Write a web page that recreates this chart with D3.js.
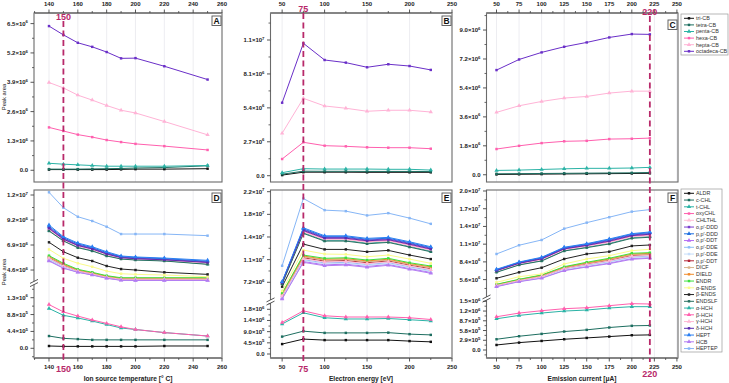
<!DOCTYPE html>
<html><head><meta charset="utf-8">
<script src="https://cdn.jsdelivr.net/npm/d3@7"></script>
<style>
body{margin:0;background:#fff}
svg{display:block}
text{font-family:Arial,"Liberation Sans",Helvetica,sans-serif}
</style>
</head><body>
<svg id="c" width="729" height="383"></svg>
<script>
// ---------------- DATA (peak areas in units of 10^6) ----------------
const tempX    = [140,150,160,170,180,190,200,220,250];
const energyX  = [50,75,100,125,150,175,200,225];
const currentX = [50,75,100,125,150,175,200,220];

const cbNames = ["tri-CB","tetra-CB","penta-CB","hexa-CB","hepta-CB","octadeca-CB"];
const cbA = [
  [0.03,0.03,0.03,0.03,0.03,0.04,0.05,0.05,0.07],
  [0.05,0.05,0.05,0.06,0.07,0.08,0.10,0.12,0.20],
  [0.31,0.27,0.24,0.21,0.18,0.18,0.18,0.18,0.21],
  [1.90,1.74,1.58,1.47,1.34,1.25,1.17,1.07,0.90],
  [3.89,3.65,3.33,3.11,2.87,2.66,2.54,2.16,1.57],
  [6.39,6.00,5.65,5.47,5.24,4.96,4.97,4.61,4.02]
];
const cbB = [
  [0.05,0.28,0.28,0.28,0.27,0.27,0.27,0.27],
  [0.12,0.36,0.35,0.35,0.34,0.34,0.34,0.33],
  [0.24,0.56,0.53,0.53,0.53,0.51,0.51,0.45],
  [1.33,2.66,2.39,2.34,2.26,2.23,2.23,2.15],
  [3.38,6.16,5.55,5.37,5.13,5.21,5.21,5.07],
  [5.81,10.54,9.21,9.00,8.63,8.87,8.73,8.42]
];
const cbC = [
  [0.02,0.03,0.04,0.05,0.06,0.07,0.08,0.09],
  [0.06,0.07,0.08,0.09,0.10,0.11,0.12,0.14],
  [0.27,0.29,0.33,0.37,0.40,0.40,0.42,0.46],
  [1.60,1.80,1.97,2.08,2.11,2.22,2.24,2.28],
  [3.88,4.29,4.56,4.77,4.87,5.08,5.20,5.20],
  [6.51,7.17,7.61,7.96,8.23,8.54,8.75,8.73]
];

const pestNames = ["ALDR","c-CHL","t-CHL","oxyCHL","CHLTHL","o,p\u2032-DDD","p,p\u2032-DDD","o,p\u2032-DDT",
  "o,p\u2032-DDE","p,p\u2032-DDE","p,p\u2032-DDT","DICF","DIELD","ENDR","\u03b1-ENDS","\u03b2-ENDS","ENDSLF",
  "\u03b1-HCH","\u03b2-HCH","\u03b3-HCH","\u03b4-HCH","HEPT","HCB","HEPTEP"];
// which side of the broken y axis each compound sits on
const pestSegment = ["low","low","up","up","up","up","up","up","up","up","up","up","up","up","up","up","up",
  "low","low","up","up","up","up","up"];

const pestD = [
  [0.06,0.05,0.05,0.05,0.05,0.05,0.05,0.06,0.06],
  [0.32,0.26,0.24,0.22,0.22,0.22,0.22,0.22,0.22],
  [8.26,7.31,6.72,6.40,5.95,5.65,5.55,5.45,5.16],
  [8.38,7.40,6.82,6.50,6.04,5.71,5.61,5.51,5.26],
  [8.30,7.34,6.76,6.44,5.98,5.67,5.57,5.47,5.20],
  [8.52,7.50,6.92,6.60,6.14,5.78,5.69,5.58,5.35],
  [8.62,7.57,7.00,6.66,6.20,5.83,5.75,5.64,5.41],
  [5.49,4.81,4.41,4.16,3.86,3.67,3.66,3.66,3.66],
  [5.62,4.92,4.47,4.21,3.90,3.72,3.72,3.72,3.72],
  [5.56,4.87,4.44,4.18,3.88,3.70,3.69,3.69,3.69],
  [5.74,5.02,4.53,4.27,3.96,3.78,3.78,3.78,3.78],
  [5.80,5.08,4.57,4.30,4.00,3.82,3.82,3.82,3.82],
  [5.85,5.14,4.61,4.34,4.03,3.85,3.85,3.85,3.85],
  [5.92,5.22,4.66,4.39,4.08,3.89,3.89,3.89,3.89],
  [6.50,5.68,5.22,4.90,4.50,4.26,4.20,4.14,3.98],
  [7.15,6.28,5.73,5.43,4.97,4.69,4.60,4.39,4.20],
  [8.19,7.27,6.65,6.35,5.89,5.61,5.52,5.43,5.12],
  [1.04,0.86,0.79,0.71,0.62,0.53,0.49,0.41,0.32],
  [1.14,0.95,0.84,0.74,0.65,0.56,0.49,0.41,0.32],
  [5.68,4.97,4.50,4.24,3.93,3.75,3.75,3.75,3.75],
  [8.44,7.44,6.86,6.54,6.08,5.74,5.64,5.54,5.30],
  [8.74,7.66,7.08,6.74,6.28,5.89,5.80,5.70,5.49],
  [5.43,4.76,4.39,4.14,3.84,3.65,3.64,3.64,3.64],
  [11.75,10.33,9.50,9.11,8.58,7.91,7.91,7.91,7.76]
];
const pestE = [
  [0.40,0.60,0.56,0.56,0.56,0.56,0.52,0.49],
  [0.70,0.92,0.85,0.85,0.85,0.86,0.80,0.77],
  [6.98,15.08,13.86,13.86,13.44,13.64,12.91,12.15],
  [7.09,15.32,14.09,14.09,13.68,13.86,13.14,12.37],
  [7.04,15.20,13.97,13.97,13.56,13.75,13.02,12.26],
  [7.19,15.57,14.33,14.33,13.92,14.09,13.38,12.60],
  [7.25,15.70,14.45,14.45,14.04,14.21,13.50,12.72],
  [4.67,10.51,9.98,10.08,9.73,10.04,9.39,8.78],
  [4.89,10.80,10.28,10.37,10.02,10.32,9.65,9.07],
  [4.78,10.66,10.13,10.23,9.87,10.18,9.52,8.92],
  [5.12,11.09,10.57,10.66,10.31,10.59,9.92,9.36],
  [5.23,11.24,10.72,10.81,10.45,10.73,10.05,9.50],
  [5.35,11.38,10.86,10.95,10.60,10.87,10.18,9.65],
  [5.46,11.53,11.01,11.10,10.74,11.01,10.31,9.79],
  [5.82,12.32,11.69,11.64,11.26,11.53,10.89,10.21],
  [6.50,13.27,12.43,12.43,12.05,12.27,11.53,10.89],
  [6.93,14.97,13.75,13.75,13.32,13.54,12.80,12.05],
  [1.21,1.66,1.46,1.41,1.41,1.43,1.38,1.33],
  [1.27,1.74,1.54,1.49,1.49,1.49,1.46,1.39],
  [5.01,10.95,10.42,10.52,10.16,10.45,9.79,9.21],
  [7.14,15.44,14.21,14.21,13.80,13.97,13.26,12.48],
  [7.30,15.86,14.59,14.59,14.18,14.34,13.64,12.85],
  [4.55,10.37,9.83,9.94,9.58,9.90,9.26,8.63],
  [9.83,20.52,18.67,18.51,17.83,18.19,17.40,16.49]
];
const pestF = [
  [0.15,0.22,0.27,0.32,0.36,0.40,0.44,0.45],
  [0.32,0.41,0.48,0.55,0.60,0.67,0.72,0.73],
  [6.82,7.98,8.62,10.20,10.74,11.34,12.23,12.41],
  [6.96,8.11,8.79,10.37,10.92,11.57,12.44,12.65],
  [6.89,8.04,8.71,10.29,10.83,11.46,12.34,12.53],
  [7.09,8.25,8.96,10.54,11.10,11.80,12.65,12.89],
  [7.16,8.31,9.05,10.63,11.19,11.91,12.76,13.01],
  [4.53,5.32,5.88,7.09,7.68,8.23,8.93,9.08],
  [4.62,5.41,6.01,7.25,7.87,8.44,9.17,9.30],
  [4.57,5.36,5.94,7.17,7.78,8.33,9.05,9.19],
  [4.72,5.51,6.14,7.40,8.06,8.65,9.40,9.53],
  [4.76,5.56,6.20,7.48,8.15,8.76,9.52,9.64],
  [4.81,5.60,6.27,7.56,8.25,8.86,9.64,9.75],
  [4.86,5.65,6.33,7.64,8.34,8.97,9.76,9.86],
  [5.17,6.06,6.49,8.07,8.86,9.38,10.17,10.39],
  [5.81,6.75,7.48,8.86,9.65,10.01,10.92,11.07],
  [6.75,7.91,8.54,10.12,10.65,11.23,12.13,12.29],
  [0.93,1.03,1.10,1.16,1.19,1.25,1.29,1.29],
  [0.99,1.10,1.17,1.23,1.26,1.32,1.38,1.37],
  [4.67,5.46,6.07,7.33,7.97,8.55,9.29,9.42],
  [7.02,8.18,8.88,10.46,11.01,11.68,12.55,12.77],
  [7.23,8.38,9.13,10.71,11.28,12.02,12.86,13.13],
  [4.48,5.27,5.81,7.01,7.59,8.12,8.81,8.97],
  [9.65,11.03,11.86,13.65,14.60,15.46,16.34,16.66]
];

// tick values / labels
const xTicksTemp = [140,160,180,200,220,240,260];
const xTicksEnergy = [50,100,150,200,250];
const xTicksCurrent = [50,75,100,125,150,175,200,225,250];
const optimum = {A:150,B:75,C:220};

const yTicksA = [0,1.3,2.6,3.9,5.2,6.5];
const yLabA = ["0.0","1.3×10^6","2.6×10^6","3.9×10^6","5.2×10^6","6.5×10^6"];
const yTicksB = [0,2.7,5.4,8.1,10.8];
const yLabB = ["0.0","2.7×10^6","5.4×10^6","8.1×10^6","1.1×10^7"];
const yTicksC = [0,1.8,3.6,5.4,7.2,9.0];
const yLabC = ["0.0","1.8×10^6","3.6×10^6","5.4×10^6","7.2×10^6","9.0×10^6"];
const yTicksDup = [4.6,6.9,9.2,11.5];
const yLabDup = ["4.6×10^6","6.9×10^6","9.2×10^6","1.2×10^7"];
const yTicksDlow = [0,0.44,0.88,1.32];
const yLabDlow = ["0.0","4.4×10^5","8.8×10^5","1.3×10^6"];
const yTicksEup = [7.2,10.8,14.4,18.0,21.6];
const yLabEup = ["7.2×10^6","1.1×10^7","1.4×10^7","1.8×10^7","2.2×10^7"];
const yTicksElow = [0,0.45,0.9,1.35,1.8];
const yLabElow = ["0.0","4.5×10^5","9.0×10^5","1.4×10^6","1.8×10^6"];
const yTicksFup = [5.6,8.4,11.2,14.0,16.8,19.6];
const yLabFup = ["5.6×10^6","8.4×10^6","1.1×10^7","1.4×10^7","1.7×10^7","2.0×10^7"];
const yTicksFlow = [0,0.29,0.58,0.87,1.16,1.45];
const yLabFlow = ["0.0","2.9×10^5","5.8×10^5","8.7×10^5","1.2×10^6","1.5×10^6"];

// ---------------- STYLE ----------------
const cbColors = ["#111111","#1d6e60","#2bb3a6","#ff5fae","#ffb3d6","#6a2fc8"];
const pestColors = ["#111111","#1d6e60","#2bb3a6","#ff5fae","#ffc0d8","#7b3fcf","#1f6fe0","#b46cf4",
  "#8dbdf7","#c6ddfa","#b32436","#d9b48a","#f08c2c","#3ee03e","#fbfb8a","#222222","#27705f",
  "#2bb3a6","#ff5fae","#ffb8d4","#5a2eb0","#2a7ef2","#b27cf2","#86b6f6"];
const pestShape = ["sq","sq","tri","sq","tri","sq","tri","tri","sq","sq","sq","sq","sq","sq","sq","sq","sq",
  "tri","tri","tri","sq","tri","tri","sq"];
const cbShape = ["sq","sq","tri","sq","tri","sq"];
const RED = "#b8296a";

const svg = d3.select("#c");

function sciText(sel, str, supSize){
  const parts = str.split("^");
  sel.append("tspan").text(parts[0]);
  if(parts[1]) sel.append("tspan").attr("dy",-2.4).attr("font-size",supSize||4.3).text(parts[1]);
}
function marker(g, shape, x, y, color){
  const sym = d3.symbol().type(shape==="tri"?d3.symbolTriangle:d3.symbolSquare).size(shape==="tri"?8:6);
  g.append("path").attr("d",sym()).attr("transform",`translate(${x},${y})`).attr("fill",color).attr("stroke","none");
}

const panels = [
  {id:"A", l:34, r:222, t:13, b:182, xd:[129.6,260], xs:tempX, xt:xTicksTemp, top:true,
   segs:[{r:[182,13], d:[-0.52,6.97], ticks:yTicksA, labs:yLabA}], data:cbA, kind:"cb"},
  {id:"B", l:270.5, r:452, t:13, b:182, xd:[36.3,250], xs:energyX, xt:xTicksEnergy, top:true,
   segs:[{r:[182,13], d:[-0.50,12.95], ticks:yTicksB, labs:yLabB}], data:cbB, kind:"cb"},
  {id:"C", l:486.5, r:678, t:13, b:182, xd:[38.9,251.2], xs:currentX, xt:xTicksCurrent, top:true,
   segs:[{r:[182,13], d:[-0.45,10.06], ticks:yTicksC, labs:yLabC}], data:cbC, kind:"cb"},
  {id:"D", l:34, r:222, t:190, b:358, xd:[129.6,260], xs:tempX, xt:xTicksTemp, top:false, brk:283,
   segs:[{key:"up", r:[281,190], d:[3.59,11.96], ticks:yTicksDup, labs:yLabDup},
         {key:"low", r:[358,285], d:[-0.253,1.651], ticks:yTicksDlow, labs:yLabDlow}], data:pestD, kind:"pest"},
  {id:"E", l:270.5, r:452, t:190, b:358, xd:[36.3,250], xs:energyX, xt:xTicksEnergy, top:false, brk:301.5,
   segs:[{key:"up", r:[300,190], d:[4.386,21.87], ticks:yTicksEup, labs:yLabEup},
         {key:"low", r:[358,303], d:[-0.161,2.054], ticks:yTicksElow, labs:yLabElow}], data:pestE, kind:"pest"},
  {id:"F", l:486.5, r:678, t:190, b:358, xd:[38.9,251.2], xs:currentX, xt:xTicksCurrent, top:false, brk:298.5,
   segs:[{key:"up", r:[297,190], d:[2.851,19.758], ticks:yTicksFup, labs:yLabFup},
         {key:"low", r:[358,300], d:[-0.238,1.489], ticks:yTicksFlow, labs:yLabFlow}], data:pestF, kind:"pest"}
];

panels.forEach(p=>{
  const g = svg.append("g");
  const x = d3.scaleLinear().domain(p.xd).range([p.l,p.r]);
  g.selectAll(".grid").data(p.xt.filter(v=>x(v)>p.l+1 && x(v)<p.r-1)).enter().append("line")
    .attr("x1",d=>x(d)).attr("x2",d=>x(d)).attr("y1",p.t).attr("y2",p.b)
    .attr("stroke","#e9e9ee").attr("stroke-width",0.8);
  g.append("rect").attr("x",p.l).attr("y",p.t).attr("width",p.r-p.l).attr("height",p.b-p.t)
    .attr("fill","none").attr("stroke","#6b6b6b").attr("stroke-width",1.1);
  const ax = p.top ? p.t : p.b, dir = p.top ? -1 : 1;
  // heavier axis line on the tick side
  g.append("line").attr("x1",p.l).attr("x2",p.r).attr("y1",ax).attr("y2",ax)
    .attr("stroke","#858585").attr("stroke-width",1.8);
  const minors = [];
  for(let i=0;i<p.xt.length-1;i++) minors.push((p.xt[i]+p.xt[i+1])/2);
  if(x(p.xt[0]-(p.xt[1]-p.xt[0])/2) > p.l) minors.push(p.xt[0]-(p.xt[1]-p.xt[0])/2);
  g.selectAll(".xt").data(p.xt).enter().append("line")
    .attr("x1",d=>x(d)).attr("x2",d=>x(d)).attr("y1",ax).attr("y2",ax+dir*3.5).attr("stroke","#444").attr("stroke-width",0.9);
  g.selectAll(".xm").data(minors).enter().append("line")
    .attr("x1",d=>x(d)).attr("x2",d=>x(d)).attr("y1",ax).attr("y2",ax+dir*2).attr("stroke","#444").attr("stroke-width",0.8);
  g.selectAll(".xl").data(p.xt).enter().append("text")
    .attr("x",d=>x(d)).attr("y",p.top?6.3:369).attr("text-anchor","middle")
    .attr("font-size",6).attr("font-weight","bold").attr("fill","#222").text(d=>d);
  const scales = {};
  p.segs.forEach(s=>{
    const y = d3.scaleLinear().domain(s.d).range(s.r);
    scales[s.key||"all"] = y;
    g.selectAll(null).data(s.ticks).enter().append("line")
      .attr("x1",p.l).attr("x2",p.l-3.5).attr("y1",d=>y(d)).attr("y2",d=>y(d)).attr("stroke","#444").attr("stroke-width",0.9);
    const mins=[];
    const step = s.ticks[1]-s.ticks[0];
    s.ticks.forEach(t=>{
      [t-step/2, t+step/2].forEach(v=>{ const yy=y(v); if(yy<=s.r[0]&&yy>=s.r[1]&&!mins.some(m=>Math.abs(m-v)<1e-9)) mins.push(v); });
    });
    g.selectAll(null).data(mins).enter().append("line")
      .attr("x1",p.l).attr("x2",p.l-2).attr("y1",d=>y(d)).attr("y2",d=>y(d)).attr("stroke","#444").attr("stroke-width",0.8);
    s.ticks.forEach((t,i)=>{
      const tx = g.append("text").attr("x",p.l-6).attr("y",y(t)+2).attr("text-anchor","end")
        .attr("font-size",6).attr("font-weight","bold").attr("fill","#222");
      sciText(tx, s.labs[i]);
    });
  });
  if(p.brk){
    g.append("rect").attr("x",p.l-4).attr("y",p.brk-1.6).attr("width",8).attr("height",3.2).attr("fill","#fff");
    [-1.6,1.6].forEach(o=>g.append("line").attr("x1",p.l-4).attr("x2",p.l+4).attr("y1",p.brk+o+2).attr("y2",p.brk+o-2)
      .attr("stroke","#444").attr("stroke-width",0.9));
  }
  const line = d3.line();
  const names = p.kind==="cb"?cbNames:pestNames;
  names.forEach((nm,i)=>{
    const y = p.kind==="cb" ? scales.all : scales[pestSegment[i]];
    const col = p.kind==="cb" ? cbColors[i] : pestColors[i];
    const shp = p.kind==="cb" ? cbShape[i] : pestShape[i];
    const pts = p.xs.map((xv,j)=>[x(xv), y(p.data[i][j])]);
    g.append("path").attr("d",line(pts)).attr("fill","none").attr("stroke",col).attr("stroke-width",1);
    pts.forEach(pt=>marker(g,shp,pt[0],pt[1],col));
  });
  g.append("rect").attr("x",p.r-10).attr("y",p.t+(p.id==="C"?7:3)).attr("width",9).attr("height",9.5)
    .attr("fill","#fff").attr("stroke","#555").attr("stroke-width",0.9);
  g.append("text").attr("x",p.r-5.5).attr("y",p.t+(p.id==="C"?15.3:11.3)).attr("text-anchor","middle")
    .attr("font-size",8.5).attr("font-weight","bold").attr("fill","#111").text(p.id);
});

// optimum dashed lines spanning both rows
[["A",0],["B",1],["C",2]].forEach(([k,idx])=>{
  const p = panels[idx];
  const x = d3.scaleLinear().domain(p.xd).range([p.l,p.r]);
  const xv = x(optimum[k]);
  const topY = k==="A"?21:(k==="B"?13:16);
  svg.append("line").attr("x1",xv).attr("x2",xv).attr("y1",topY).attr("y2",362)
    .attr("stroke",RED).attr("stroke-width",1.8).attr("stroke-dasharray","6,3.5");
  svg.append("text").attr("x",xv).attr("y",k==="A"?19.5:(k==="B"?12:15)).attr("text-anchor","middle")
    .attr("font-size",9).attr("font-weight","bold").attr("fill",RED).text(optimum[k]);
  svg.append("text").attr("x",xv).attr("y",k==="C"?377:372).attr("text-anchor","middle")
    .attr("font-size",9).attr("font-weight","bold").attr("fill",RED).text(optimum[k]);
});

// axis titles
svg.append("text").attr("x",128).attr("y",381).attr("text-anchor","middle").attr("font-size",6.6).attr("font-weight","bold").attr("fill","#222").text("Ion source temperature [° C]");
svg.append("text").attr("x",361).attr("y",381).attr("text-anchor","middle").attr("font-size",6.6).attr("font-weight","bold").attr("fill","#222").text("Electron energy [eV]");
svg.append("text").attr("x",582).attr("y",381).attr("text-anchor","middle").attr("font-size",6.6).attr("font-weight","bold").attr("fill","#222").text("Emission current [\u03bcA]");
[97,272].forEach(cy=>svg.append("text").attr("transform",`translate(6,${cy}) rotate(-90)`).attr("text-anchor","middle")
  .attr("font-size",5.8).attr("fill","#222").text("Peak area"));

// legends
function legend(x0,y0,w,step,names,colors,shapes,boxH){
  const g = svg.append("g");
  g.append("rect").attr("x",x0).attr("y",y0).attr("width",w).attr("height",boxH).attr("fill","#fff").attr("stroke","#999").attr("stroke-width",0.7);
  names.forEach((n,i)=>{
    const yy = y0+4.3+i*step;
    g.append("line").attr("x1",x0+3).attr("x2",x0+13).attr("y1",yy).attr("y2",yy).attr("stroke",colors[i]).attr("stroke-width",1);
    marker(g,shapes[i],x0+8,yy,colors[i]);
    g.append("text").attr("x",x0+15).attr("y",yy+1.9).attr("font-size",5.4).attr("fill","#333").text(n);
  });
}
legend(681,14,47,6.6,cbNames,cbColors,cbShape,41);
legend(681,189,41,6.75,pestNames,pestColors,pestShape,163);
</script>
</body></html>
